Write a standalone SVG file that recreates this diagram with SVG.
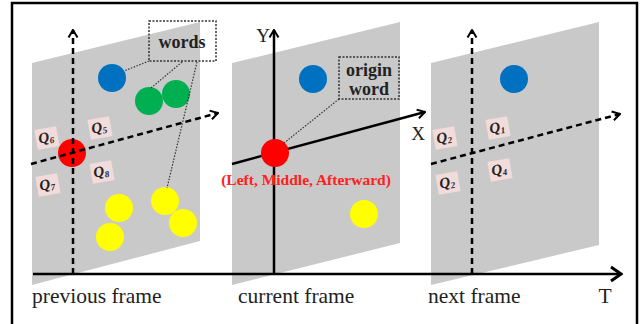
<svg xmlns="http://www.w3.org/2000/svg" width="643" height="324" viewBox="0 0 643 324">
<defs>
<style>
.panel{fill:#c9c9c9}
.dash{stroke:#000;stroke-width:2.5;stroke-dasharray:6 4;fill:none}
.solid{stroke:#000;stroke-width:2.5;fill:none}
.lead{stroke:#333;stroke-width:1.2;stroke-dasharray:1.5 1.5;fill:none}
.box{fill:none;stroke:#333;stroke-width:1.5;stroke-dasharray:2 1.5}
.lbl{font-family:"Liberation Serif",serif;font-size:21.5px;fill:#222}
.ax{font-family:"Liberation Serif",serif;font-size:19px;fill:#222}
.bt{font-family:"Liberation Serif",serif;font-size:18px;font-weight:bold;fill:#222;text-anchor:middle}
.qb{fill:#f2dcdb}
.qt{font-family:"Liberation Serif",serif;font-size:15px;font-style:italic;font-weight:bold;fill:#222;text-anchor:middle}
.blue{fill:#0070c0}.green{fill:#00b050}.yellow{fill:#ffff00}.red{fill:#ff0000}
</style>
<marker id="ab" markerUnits="userSpaceOnUse" markerWidth="14" markerHeight="18" viewBox="0 0 14 18" refX="12" refY="9" orient="auto"><path d="M2,2 L12,9 L2,16" fill="none" stroke="#000" stroke-width="3"/></marker>
<marker id="as" markerUnits="userSpaceOnUse" markerWidth="10" markerHeight="12" viewBox="0 0 10 12" refX="9" refY="6" orient="auto"><path d="M1.5,1.5 L9,6 L1.5,10.5" fill="none" stroke="#000" stroke-width="2"/></marker>
</defs>
<rect width="643" height="324" fill="#fff"/>
<path d="M12,324 V3 H637 V324" fill="none" stroke="#000" stroke-width="2.5"/>

<g id="panel-previous">
<polygon class="panel" points="32,63 200,22 200,241 32,285"/>
</g>
<g id="panel-current">
<polygon class="panel" points="232,63 400,22 400,243 232,285"/>
</g>
<g id="panel-next">
<polygon class="panel" points="431,63 599,22 599,245 431,285"/>
</g>

<g id="quadrants-previous">
<g transform="translate(47,138) rotate(-10)"><rect class="qb" x="-11" y="-10" width="22" height="20"/><text class="qt" x="-1" y="4">Q<tspan font-size="9" dy="2">6</tspan></text></g>
<g transform="translate(100,128) rotate(-10)"><rect class="qb" x="-11" y="-10" width="22" height="20"/><text class="qt" x="-1" y="4">Q<tspan font-size="9" dy="2">5</tspan></text></g>
<g transform="translate(48,185) rotate(-10)"><rect class="qb" x="-11" y="-10" width="22" height="20"/><text class="qt" x="-1" y="4">Q<tspan font-size="9" dy="2">7</tspan></text></g>
<g transform="translate(102,172) rotate(-10)"><rect class="qb" x="-11" y="-10" width="22" height="20"/><text class="qt" x="-1" y="4">Q<tspan font-size="9" dy="2">8</tspan></text></g>
</g>
<g id="quadrants-next">
<g transform="translate(445,138) rotate(-10)"><rect class="qb" x="-11" y="-10" width="22" height="20"/><text class="qt" x="-1" y="4">Q<tspan font-size="9" dy="2">2</tspan></text></g>
<g transform="translate(498,128) rotate(-10)"><rect class="qb" x="-11" y="-10" width="22" height="20"/><text class="qt" x="-1" y="4">Q<tspan font-size="9" dy="2">1</tspan></text></g>
<g transform="translate(448,183) rotate(-10)"><rect class="qb" x="-11" y="-10" width="22" height="20"/><text class="qt" x="-1" y="4">Q<tspan font-size="9" dy="2">2</tspan></text></g>
<g transform="translate(500,170) rotate(-10)"><rect class="qb" x="-11" y="-10" width="22" height="20"/><text class="qt" x="-1" y="4">Q<tspan font-size="9" dy="2">4</tspan></text></g>
</g>

<g id="words-previous">
<circle class="blue" cx="112" cy="78" r="14"/>
<circle class="green" cx="149" cy="101" r="14"/>
<circle class="green" cx="176" cy="94" r="14"/>
<circle class="yellow" cx="119" cy="208" r="14"/>
<circle class="yellow" cx="110" cy="237" r="14"/>
<circle class="yellow" cx="165" cy="201" r="14"/>
<circle class="yellow" cx="183" cy="223" r="14"/>
<circle class="red" cx="72" cy="153" r="14"/>
</g>
<g id="words-current">
<circle class="blue" cx="313" cy="79" r="14"/>
<circle class="yellow" cx="364" cy="214" r="14"/>
</g>
<g id="words-next">
<circle class="blue" cx="514" cy="79" r="14"/>
</g>

<g id="connectors">
<line class="solid" x1="33" y1="274" x2="621" y2="274" stroke-width="3" marker-end="url(#ab)"/>
<line class="dash" x1="73" y1="274" x2="73" y2="30" marker-end="url(#as)"/>
<line class="dash" x1="31" y1="164" x2="218" y2="113" marker-end="url(#as)"/>
<line class="solid" x1="274" y1="274" x2="274" y2="30" marker-end="url(#as)"/>
<line class="solid" x1="232" y1="164" x2="425" y2="112" marker-end="url(#as)"/>
<line class="dash" x1="472" y1="274" x2="472" y2="30" marker-end="url(#as)"/>
<line class="dash" x1="431" y1="164" x2="620" y2="114" marker-end="url(#as)"/>
<line class="lead" x1="149" y1="61" x2="124" y2="71"/>
<line class="lead" x1="182" y1="62" x2="151" y2="88"/>
<line class="lead" x1="197" y1="62" x2="167" y2="188"/>
<line class="lead" x1="339" y1="99" x2="284" y2="143"/>
</g>

<g id="origin-current">
<circle class="red" cx="275" cy="153" r="14"/>
<text x="306" y="185" font-family="Liberation Serif,serif" font-size="15.5" font-weight="bold" fill="#ff2020" text-anchor="middle">(Left, Middle, Afterward)</text>
</g>

<g id="label-words">
<rect class="box" x="149" y="21" width="67" height="40"/>
<text class="bt" x="182" y="48">words</text>
</g>
<g id="label-origin-word">
<rect class="box" x="339" y="57" width="60" height="42"/>
<text class="bt" x="369" y="76">origin</text>
<text class="bt" x="369" y="95">word</text>
</g>

<g id="axis-labels">
<text class="ax" x="263" y="42" text-anchor="middle">Y</text>
<text class="ax" x="418" y="140" text-anchor="middle">X</text>
<text class="lbl" x="605" y="303" text-anchor="middle">T</text>
<text class="lbl" x="32" y="303">previous frame</text>
<text class="lbl" x="238" y="303">current frame</text>
<text class="lbl" x="428" y="303">next frame</text>
</g>
</svg>
